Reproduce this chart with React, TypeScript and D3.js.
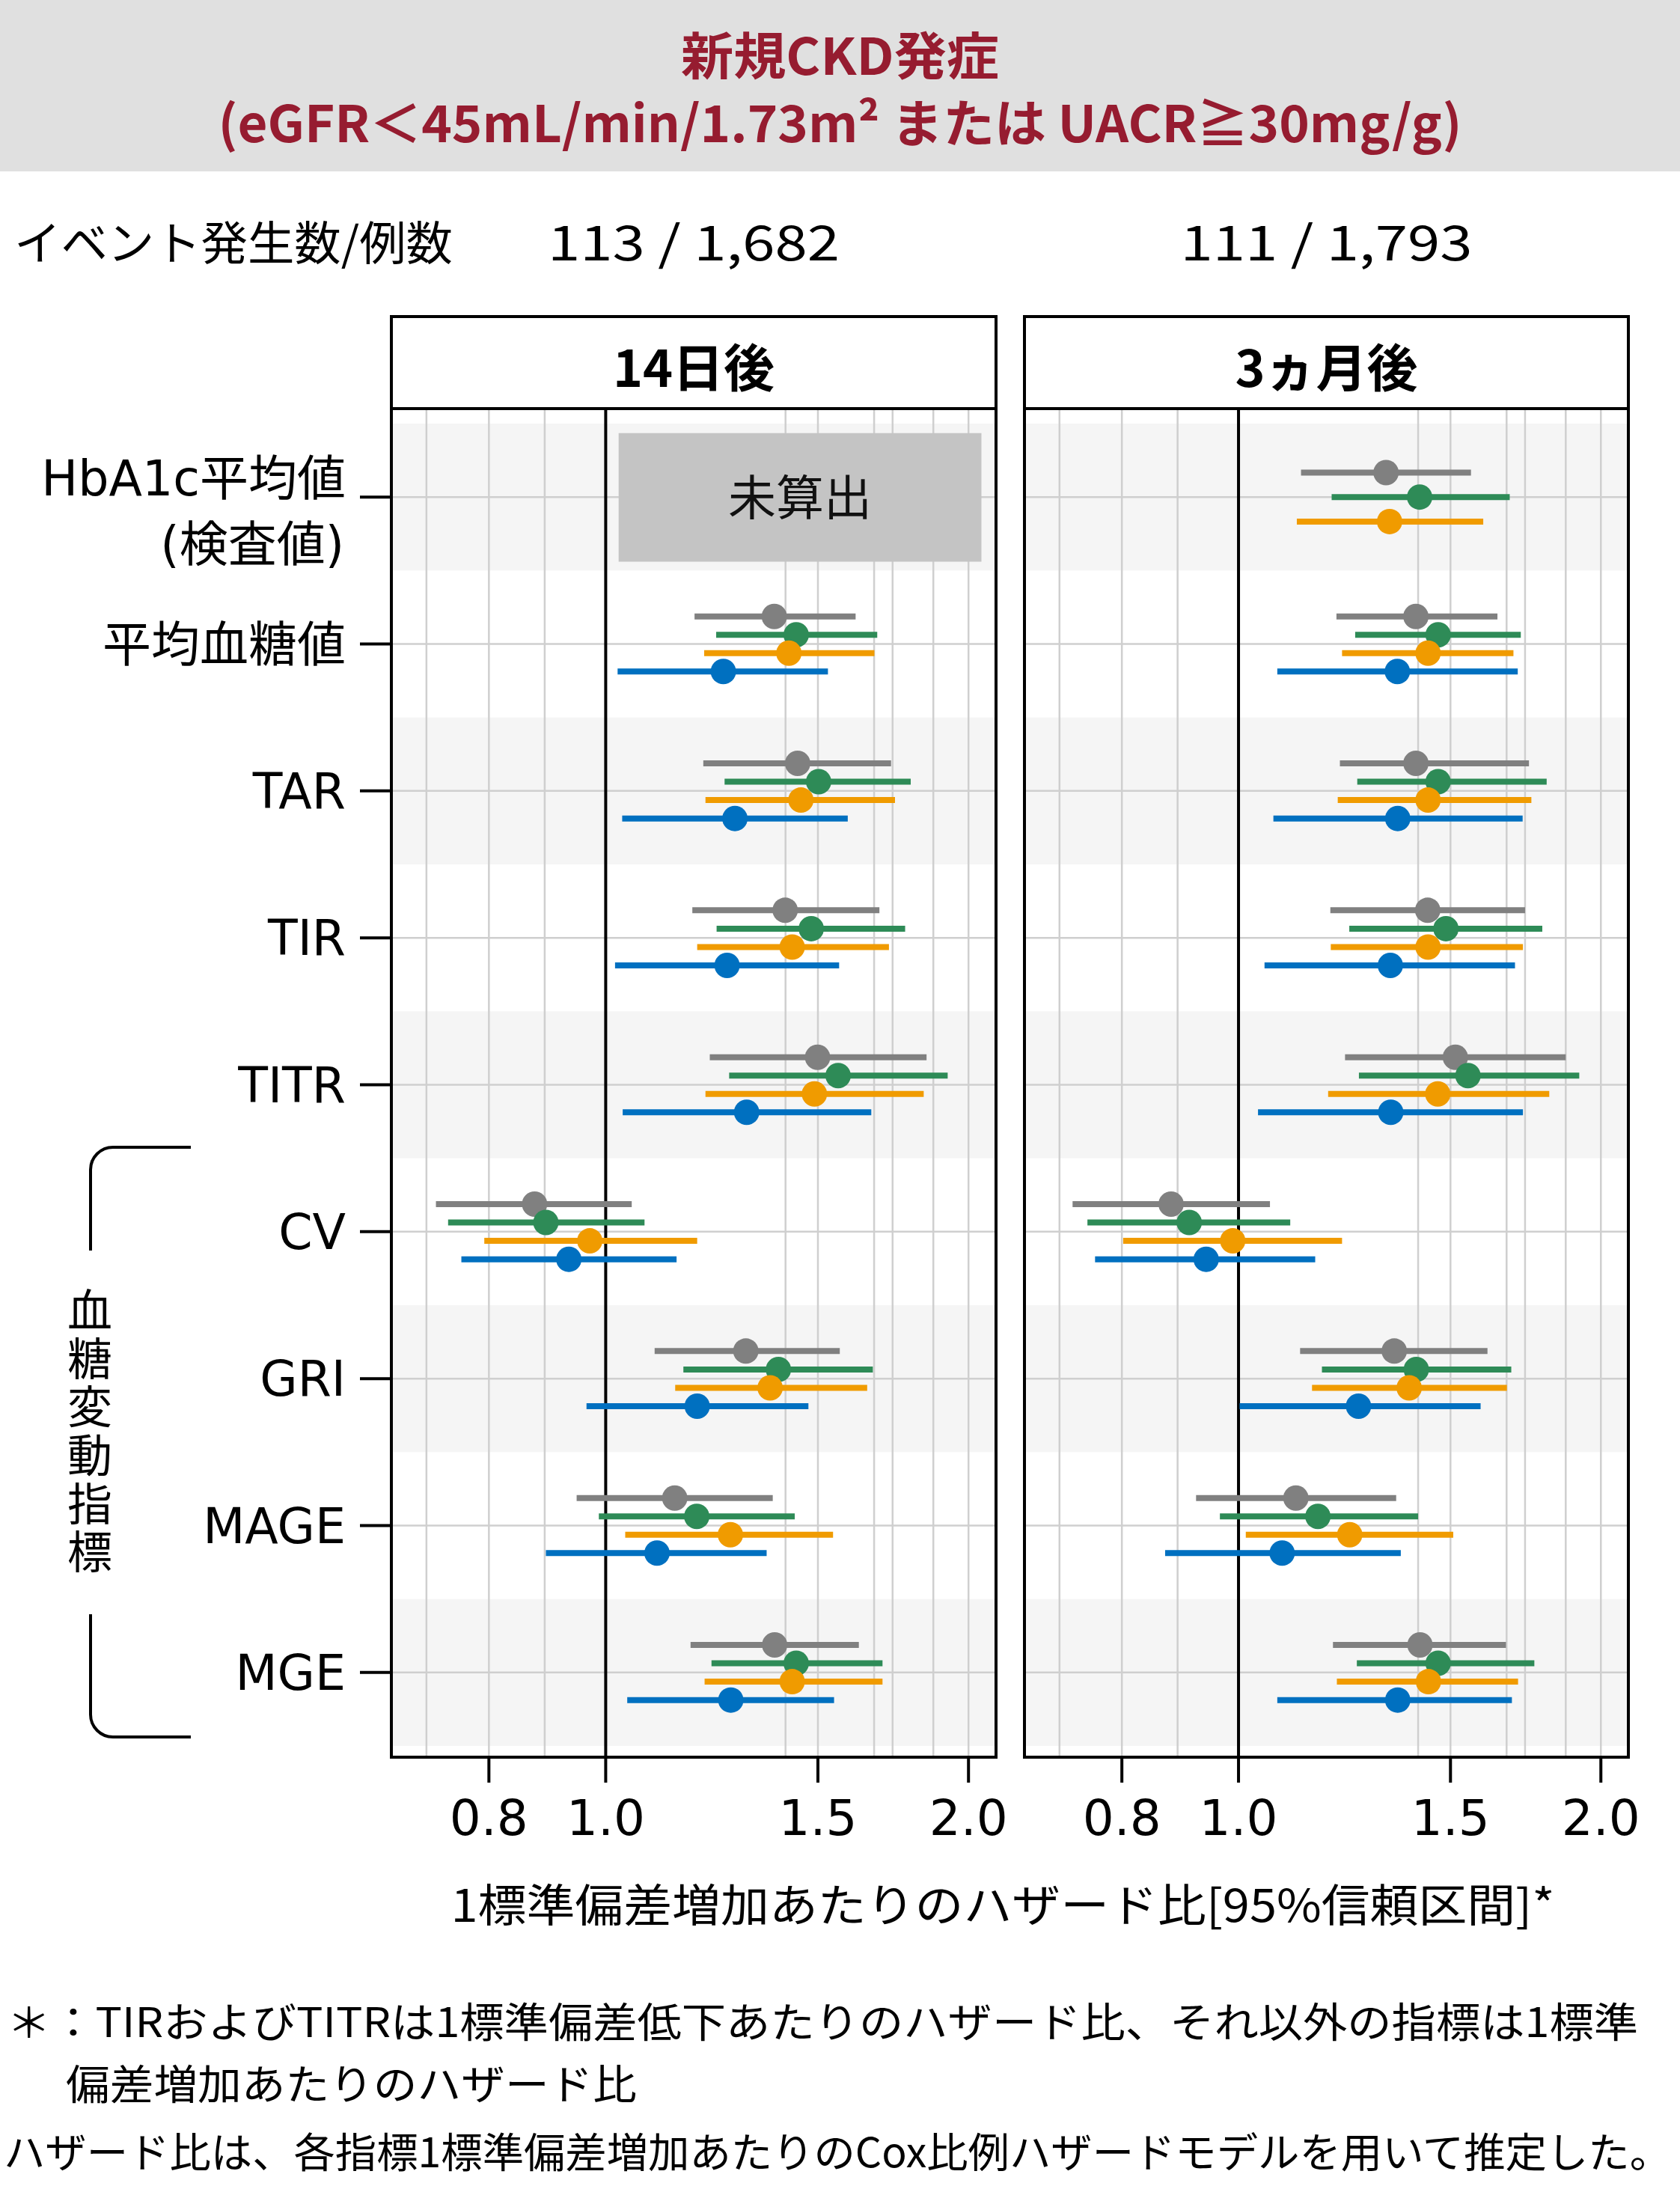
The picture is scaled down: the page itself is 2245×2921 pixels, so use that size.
import React, { useEffect, useRef } from 'react';
import * as d3 from 'd3';

const rowLabels = ['HbA1c平均値', '平均血糖値', 'TAR', 'TIR', 'TITR', 'CV', 'GRI', 'MAGE', 'MGE'];
const rowSubLabels = ['(検査値)', '', '', '', '', '', '', '', ''];
const panelTitles = ['14日後', '3ヵ月後'];
const eventCounts = ['113 / 1,682', '111 / 1,793'];
const seriesColors = ['#808080', '#2E8B57', '#F09B00', '#0070C0'];
const xTicks = [0.8, 1.0, 1.5, 2.0];
const xGrid = [0.71, 0.8, 0.89, 1.41, 1.5, 1.67, 1.73, 1.87, 2.0];
const notCalculated = [{ panel: 0, row: 0, from: 1.025, to: 2.05, label: '未算出' }];
const bracketLabel = '血糖変動指標';

// rows x series (gray, green, orange, blue); null = not shown
const hr14 = [
  [null, null, null, null],
  [1.38, 1.439, 1.419, 1.252],
  [1.443, 1.502, 1.452, 1.28],
  [1.409, 1.481, 1.428, 1.261],
  [1.499, 1.559, 1.49, 1.309],
  [0.873, 0.892, 0.97, 0.932],
  [1.307, 1.391, 1.369, 1.191],
  [1.141, 1.19, 1.269, 1.103],
  [1.381, 1.439, 1.428, 1.27],
];
const lo14 = [
  [null, null, null, null],
  [1.185, 1.235, 1.207, 1.023],
  [1.205, 1.255, 1.21, 1.032],
  [1.18, 1.236, 1.191, 1.018],
  [1.22, 1.266, 1.21, 1.033],
  [0.723, 0.74, 0.793, 0.759],
  [1.098, 1.16, 1.142, 0.964],
  [0.946, 0.987, 1.038, 0.892],
  [1.176, 1.224, 1.208, 1.042],
];
const hi14 = [
  [null, null, null, null],
  [1.612, 1.68, 1.671, 1.529],
  [1.725, 1.791, 1.738, 1.588],
  [1.687, 1.772, 1.718, 1.562],
  [1.846, 1.922, 1.836, 1.661],
  [1.051, 1.077, 1.191, 1.145],
  [1.564, 1.666, 1.648, 1.473],
  [1.376, 1.435, 1.544, 1.36],
  [1.622, 1.697, 1.697, 1.547],
];
const hr3m = [
  [1.326, 1.414, 1.335, null],
  [1.404, 1.465, 1.437, 1.355],
  [1.404, 1.465, 1.437, 1.356],
  [1.436, 1.487, 1.437, 1.337],
  [1.514, 1.551, 1.464, 1.338],
  [0.879, 0.91, 0.989, 0.94],
  [1.347, 1.405, 1.386, 1.258],
  [1.116, 1.164, 1.237, 1.087],
  [1.415, 1.465, 1.438, 1.356],
];
const lo3m = [
  [1.127, 1.195, 1.118, null],
  [1.206, 1.25, 1.219, 1.077],
  [1.214, 1.255, 1.209, 1.069],
  [1.192, 1.236, 1.193, 1.051],
  [1.226, 1.259, 1.187, 1.038],
  [0.728, 0.749, 0.802, 0.76],
  [1.125, 1.173, 1.151, 1.002],
  [0.922, 0.965, 1.014, 0.869],
  [1.198, 1.254, 1.207, 1.077],
];
const hi3m = [
  [1.56, 1.68, 1.597, null],
  [1.641, 1.716, 1.692, 1.706],
  [1.743, 1.803, 1.751, 1.722],
  [1.73, 1.788, 1.723, 1.697],
  [1.87, 1.919, 1.812, 1.723],
  [1.062, 1.104, 1.219, 1.158],
  [1.61, 1.685, 1.671, 1.589],
  [1.352, 1.41, 1.508, 1.364],
  [1.668, 1.761, 1.707, 1.687],
];

const panelData = [
  { hr: hr14, lo: lo14, hi: hi14 },
  { hr: hr3m, lo: lo3m, hi: hi3m },
];

const App: React.FC = () => {
  const svgRef = useRef<SVGSVGElement>(null);
  const width = 2245;
  const height = 2921;

  useEffect(() => {
    if (!svgRef.current) return;
    const svg = d3.select(svgRef.current);
    svg.selectAll('*').remove();

    const font = "'Noto Sans CJK JP', 'Noto Sans', sans-serif";
    const latinFont = "'DejaVu Sans', 'Noto Sans CJK JP', sans-serif";
    const red = '#961C30';
    const panelX = [[523, 1331], [1369, 2176]];
    const stripTop = 423;
    const plotTop = 546;
    const plotBottom = 2348;

    const y = d3.scaleBand<number>()
      .domain(d3.range(rowLabels.length))
      .range([566, 2333]);
    const bw = y.bandwidth();
    const cy = (i: number) => (y(i) || 0) + bw / 2;

    // Title band
    svg.append('rect')
      .attr('x', 0).attr('y', 0)
      .attr('width', width).attr('height', 229)
      .attr('fill', '#E0E0E0');

    svg.append('text')
      .attr('x', width / 2).attr('y', 100)
      .attr('text-anchor', 'middle')
      .style('font-family', font).style('font-size', '68px').style('font-weight', 'bold')
      .style('fill', red)
      .attr('textLength', 425).attr('lengthAdjust', 'spacingAndGlyphs')
      .text('新規CKD発症');

    svg.append('text')
      .attr('x', width / 2).attr('y', 190)
      .attr('text-anchor', 'middle')
      .style('font-family', font).style('font-size', '68px').style('font-weight', 'bold')
      .style('fill', red)
      .attr('textLength', 1662).attr('lengthAdjust', 'spacingAndGlyphs')
      .text('(eGFR＜45mL/min/1.73m² または UACR≧30mg/g)');

    // Event counts
    svg.append('text')
      .attr('x', 19).attr('y', 348)
      .style('font-family', font).style('font-size', '62px')
      .attr('textLength', 586).attr('lengthAdjust', 'spacingAndGlyphs')
      .text('イベント発生数/例数');

    panelTitles.forEach((title, p) => {
      const [x0, x1] = panelX[p];
      const { hr, lo, hi } = panelData[p];
      const x = d3.scaleLog().domain([0.664, 2.108]).range([x0, x1]);
      const g = svg.append('g');

      svg.append('text')
        .attr('x', (x0 + x1) / 2).attr('y', 348)
        .attr('text-anchor', 'middle')
        .style('font-family', font).style('font-size', '64px')
        .attr('textLength', 390).attr('lengthAdjust', 'spacingAndGlyphs')
        .text(eventCounts[p]);

      // alternating row shading
      g.selectAll('.shade')
        .data(d3.range(rowLabels.length).filter(i => i % 2 === 0))
        .enter().append('rect')
        .attr('x', x0).attr('width', x1 - x0)
        .attr('y', d => y(d) || 0).attr('height', bw)
        .attr('fill', '#F5F5F5');

      // grid
      g.selectAll('.vgrid')
        .data(xGrid)
        .enter().append('line')
        .attr('x1', d => x(d)).attr('x2', d => x(d))
        .attr('y1', plotTop).attr('y2', plotBottom)
        .attr('stroke', '#CFCFCF').attr('stroke-width', 2.5);

      g.selectAll('.hgrid')
        .data(d3.range(rowLabels.length))
        .enter().append('line')
        .attr('x1', x0).attr('x2', x1)
        .attr('y1', d => cy(d)).attr('y2', d => cy(d))
        .attr('stroke', '#CFCFCF').attr('stroke-width', 2.5);

      // reference line at 1.0
      g.append('line')
        .attr('x1', x(1)).attr('x2', x(1))
        .attr('y1', plotTop).attr('y2', plotBottom)
        .attr('stroke', '#000').attr('stroke-width', 4);

      // not calculated boxes
      notCalculated.filter(d => d.panel === p).forEach(d => {
        const top = cy(d.row) - bw * 0.435;
        const h = bw * 0.875;
        g.append('rect')
          .attr('x', x(d.from)).attr('width', x(d.to) - x(d.from))
          .attr('y', top).attr('height', h)
          .attr('fill', '#C4C4C4');
        g.append('text')
          .attr('x', (x(d.from) + x(d.to)) / 2).attr('y', top + h / 2 + 23)
          .attr('text-anchor', 'middle')
          .style('font-family', font).style('font-size', '64px')
          .style('fill', '#111')
          .text(d.label);
      });

      // estimates with CI
      rowLabels.forEach((_, i) => {
        const present = seriesColors.map((c, s) => s).filter(s => hr[i][s] !== null);
        const n = present.length;
        const step = (bw * 0.5) / Math.max(n, 1);
        present.forEach((s, k) => {
          const yy = cy(i) + (k - (n - 1) / 2) * step;
          g.append('line')
            .attr('x1', x(lo[i][s] as number)).attr('x2', x(hi[i][s] as number))
            .attr('y1', yy).attr('y2', yy)
            .attr('stroke', seriesColors[s]).attr('stroke-width', 8);
          g.append('circle')
            .attr('cx', x(hr[i][s] as number)).attr('cy', yy)
            .attr('r', 17)
            .attr('fill', seriesColors[s]);
        });
      });

      // strip header
      svg.append('rect')
        .attr('x', x0).attr('y', stripTop)
        .attr('width', x1 - x0).attr('height', plotTop - stripTop)
        .attr('fill', '#fff').attr('stroke', '#000').attr('stroke-width', 4);
      svg.append('text')
        .attr('x', (x0 + x1) / 2).attr('y', 517)
        .attr('text-anchor', 'middle')
        .style('font-family', font).style('font-size', '68px').style('font-weight', 'bold')
        .text(title);

      // panel border
      svg.append('rect')
        .attr('x', x0).attr('y', plotTop)
        .attr('width', x1 - x0).attr('height', plotBottom - plotTop)
        .attr('fill', 'none').attr('stroke', '#000').attr('stroke-width', 4);

      // x axis
      const ax = svg.append('g');
      ax.selectAll('.tick')
        .data(xTicks)
        .enter().append('line')
        .attr('x1', d => x(d)).attr('x2', d => x(d))
        .attr('y1', plotBottom).attr('y2', 2382)
        .attr('stroke', '#000').attr('stroke-width', 4);
      ax.selectAll('.ticklabel')
        .data(xTicks)
        .enter().append('text')
        .attr('x', d => x(d)).attr('y', 2452)
        .attr('text-anchor', 'middle')
        .style('font-family', latinFont).style('font-size', '66px')
        .text(d => d3.format('.1f')(d));
    });

    // y axis labels and ticks
    rowLabels.forEach((label, i) => {
      svg.append('line')
        .attr('x1', 481).attr('x2', 523)
        .attr('y1', cy(i)).attr('y2', cy(i))
        .attr('stroke', '#000').attr('stroke-width', 4);
      const sub = rowSubLabels[i];
      svg.append('text')
        .attr('x', 462).attr('y', sub ? cy(i) - 2 : cy(i) + 23)
        .attr('text-anchor', 'end')
        .style('font-family', latinFont).style('font-size', '65px')
        .text(label);
      if (sub) {
        svg.append('text')
          .attr('x', 460).attr('y', cy(i) + 86)
          .attr('text-anchor', 'end')
          .style('font-family', latinFont).style('font-size', '65px')
          .text(sub);
      }
    });

    // bracket for glycemic variability indices
    svg.append('path')
      .attr('d', 'M255,1533 H151 A30,30 0 0 0 121,1563 V1671 M121,2157 V2291 A30,30 0 0 0 151,2321 H255')
      .attr('fill', 'none').attr('stroke', '#000').attr('stroke-width', 4);
    svg.append('text')
      .attr('x', 120).attr('y', 1912)
      .attr('text-anchor', 'middle')
      .style('writing-mode', 'vertical-rl')
      .style('font-family', font).style('font-size', '60px')
      .attr('textLength', 383).attr('lengthAdjust', 'spacing')
      .text(bracketLabel);

    // x axis title
    svg.append('text')
      .attr('x', 1340).attr('y', 2568)
      .attr('text-anchor', 'middle')
      .style('font-family', font).style('font-size', '60px')
      .attr('textLength', 1475).attr('lengthAdjust', 'spacingAndGlyphs')
      .text('1標準偏差増加あたりのハザード比[95%信頼区間]*');

    // footnotes
    const notes = [
      { x: 9, y: 2722, w: 2180, t: '＊：TIRおよびTITRは1標準偏差低下あたりのハザード比、それ以外の指標は1標準' },
      { x: 88, y: 2805, w: 763, t: '偏差増加あたりのハザード比' },
      { x: 5, y: 2896, w: 2228, t: 'ハザード比は、各指標1標準偏差増加あたりのCox比例ハザードモデルを用いて推定した。' },
    ];
    notes.forEach(n => {
      svg.append('text')
        .attr('x', n.x).attr('y', n.y)
        .style('font-family', font).style('font-size', '55px')
        .attr('textLength', n.w).attr('lengthAdjust', 'spacingAndGlyphs')
        .text(n.t);
    });
  }, []);

  return (
    <svg
      ref={svgRef}
      width={width}
      height={height}
      style={{ position: 'absolute', left: 0, top: 0, background: '#fff', display: 'block' }}
    />
  );
};

export default App;
